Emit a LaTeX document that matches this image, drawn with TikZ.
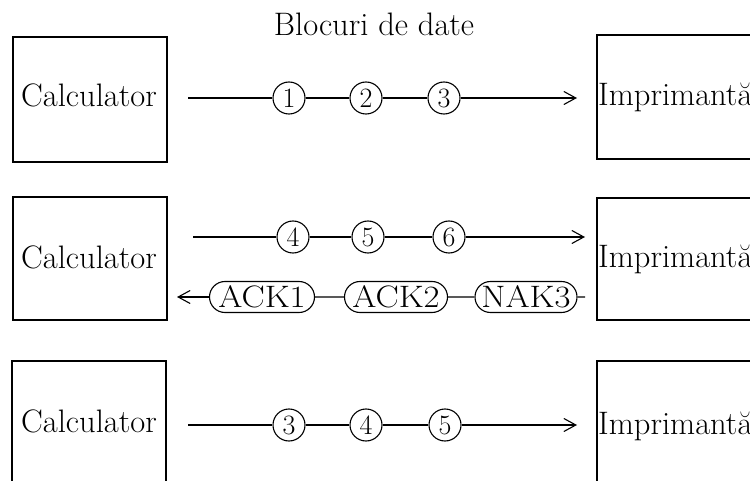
\documentclass[tikz,border=0pt]{standalone}
\usetikzlibrary{arrows.meta,shapes.misc}
\begin{document}
\begin{tikzpicture}[x=1pt,y=-1pt,
  dev/.style={draw,line width=1.4pt,inner sep=0pt},
  lbl/.style={font=\fontsize{32.5}{33}\selectfont,inner sep=0pt},
  blk/.style={circle,draw,fill=white,line width=1.1pt,minimum size=32pt,inner sep=0pt,
              font=\fontsize{28}{28}\selectfont},
  ack/.style={rounded rectangle,draw,fill=white,line width=1.1pt,minimum height=31pt,
              inner sep=0pt,font=\fontsize{31}{31}\selectfont},
  wire/.style={line width=1.1pt},
  tip/.style={-{Straight Barb[length=12pt,width=13pt,line width=1.1pt]}}
]
\clip (0,0) rectangle (750,481);

% title
\node[lbl,anchor=base] (title) at (374,36) {Blocuri de date};

% ---- first exchange ----
\node[dev,minimum width=154pt,minimum height=125pt] (pc1) at (90,99.5) {};
\node[dev,minimum width=170pt,minimum height=124pt] (pr1) at (682,97) {};
\node[lbl,anchor=base] (pct1) at (89,107) {Calculator};
\node[lbl,anchor=base west] (prt1) at (598,106) {Imprimantă};
\coordinate (s1) at (188,98);
\coordinate (e1) at (577,98);
\node[blk] (b11) at (289,98) {1};
\node[blk] (b12) at (366,98) {2};
\node[blk] (b13) at (444,98) {3};
\draw[wire] (s1) -- (b11) -- (b12) -- (b13);
\draw[wire,tip] (b13) -- (e1);

% ---- second exchange ----
\node[dev,minimum width=154pt,minimum height=123pt] (pc2) at (90,258.5) {};
\node[dev,minimum width=170pt,minimum height=122pt] (pr2) at (682,259) {};
\node[lbl,anchor=base] (pct2) at (89,269) {Calculator};
\node[lbl,anchor=base west] (prt2) at (598,268) {Imprimantă};
\coordinate (s2) at (193,237);
\coordinate (e2) at (585,237);
\node[blk] (b24) at (293,237) {4};
\node[blk] (b25) at (368,237) {5};
\node[blk] (b26) at (449,237) {6};
\draw[wire] (s2) -- (b24) -- (b25) -- (b26);
\draw[wire,tip] (b26) -- (e2);

\coordinate (r2) at (585,297);
\coordinate (l2) at (177,297);
\node[ack,minimum width=105pt] (a1) at (262,297) {\scalebox{1.12}[1]{ACK1}};
\node[ack,minimum width=103pt] (a2) at (396,297) {\scalebox{1.12}[1]{ACK2}};
\node[ack,minimum width=102pt] (n3) at (526,297) {\scalebox{1.12}[1]{NAK3}};
\draw[wire] (r2) -- (n3) -- (a2) -- (a1);
\draw[wire,tip] (a1) -- (l2);

% ---- third exchange ----
\node[dev,minimum width=154pt,minimum height=140pt] (pc3) at (89,431) {};
\node[dev,minimum width=170pt,minimum height=140pt] (pr3) at (682,431) {};
\node[lbl,anchor=base] (pct3) at (89,432) {Calculator};
\node[lbl,anchor=base west] (prt3) at (598,434) {Imprimantă};
\coordinate (s3) at (188,425);
\coordinate (e3) at (577,425);
\node[blk] (b33) at (289,425) {3};
\node[blk] (b34) at (366,425) {4};
\node[blk] (b35) at (445,425) {5};
\draw[wire] (s3) -- (b33) -- (b34) -- (b35);
\draw[wire,tip] (b35) -- (e3);
\end{tikzpicture}
\end{document}
